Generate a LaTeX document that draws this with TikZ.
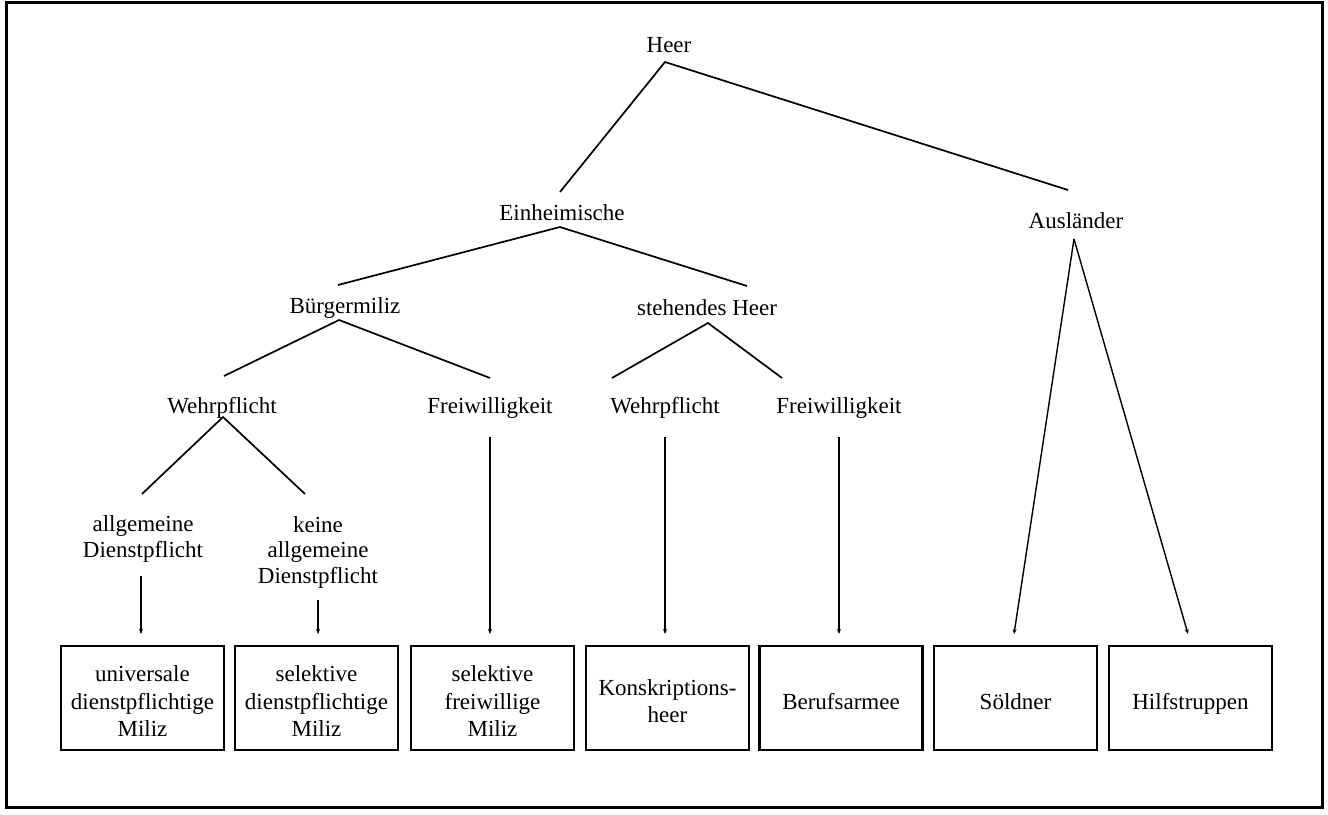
\documentclass[tikz,border=0pt]{standalone}
\usepackage{fontspec}
\setmainfont{Liberation Serif}
\usetikzlibrary{arrows.meta}
\newcommand{\toppad}{\rule{0pt}{22pt}}
\tikzset{
  lbl/.style={inner sep=0pt, align=center, font=\fontsize{23}{25.5}\selectfont},
  endbox/.style={draw, line width=2.8pt, minimum width=163pt, minimum height=104pt, inner sep=0pt, align=center, font=\fontsize{23}{27.5}\selectfont},
  single/.style={text height=22pt, text depth=0pt},
  branch/.style={line width=1.7pt},
  arr/.style={line width=1.4pt, -{Stealth[length=5pt,width=4pt]}},
}
\begin{document}
\begin{tikzpicture}[x=1pt,y=-1pt]
\useasboundingbox (0,0) rectangle (1328,814);
\draw[line width=3pt] (6,2) rectangle (1322,807);
% text nodes
\node[lbl] (heer) at (669,45) {Heer};
\node[lbl] (einh) at (562,213) {Einheimische};
\node[lbl] (ausl) at (1076,221) {Ausländer};
\node[lbl] (buerg) at (345,308) {Bürgermiliz};
\node[lbl] (steh) at (707,308) {stehendes Heer};
\node[lbl] (wehrL) at (222,408) {Wehrpflicht};
\node[lbl] (freiL) at (490,408) {Freiwilligkeit};
\node[lbl] (wehrM) at (665,408) {Wehrpflicht};
\node[lbl] (freiR) at (839,408) {Freiwilligkeit};
\node[lbl] (allg) at (143,539) {allgemeine\\Dienstpflicht};
\node[lbl] (keine) at (318,552) {keine\\allgemeine\\Dienstpflicht};
% boxes
\node[endbox] (b1) at (142.5,698) {\toppad universale\\dienstpflichtige\\Miliz};
\node[endbox] (b2) at (316.5,698) {\toppad selektive\\dienstpflichtige\\Miliz};
\node[endbox] (b3) at (492.5,698) {\toppad selektive\\freiwillige\\Miliz};
\node[endbox] (b4) at (667.5,698) {\toppad Konskriptions-\\heer};
\node[endbox,single] (b5) at (841,698) {Berufsarmee};
\node[endbox,single] (b6) at (1015.5,698) {Söldner};
\node[endbox,single] (b7) at (1190.5,698) {Hilfstruppen};
% connector points
\coordinate (heerA) at (665,62);
\coordinate (einhT) at (560,192);
\coordinate (auslT) at (1068,190);
\coordinate (einhA) at (560,227);
\coordinate (buergT) at (338,285);
\coordinate (stehT) at (747,286);
\coordinate (buergA) at (339,320);
\coordinate (wehrLT) at (224,376);
\coordinate (freiLT) at (490,378);
\coordinate (stehA) at (708,323);
\coordinate (wehrMT) at (612,378);
\coordinate (freiRT) at (782,378);
\coordinate (wehrLA) at (223,417);
\coordinate (allgT) at (142,494);
\coordinate (keineT) at (305,494);
\coordinate (auslA) at (1074,239);
\coordinate (allgB) at (141,576);
\coordinate (keineB) at (318,600);
\coordinate (freiLB) at (490,437);
\coordinate (wehrMB) at (665,437);
\coordinate (freiRB) at (839,437);
\coordinate (t1) at (141,634);
\coordinate (t2) at (318,634);
\coordinate (t3) at (490,634);
\coordinate (t4) at (665,634);
\coordinate (t5) at (839,634);
\coordinate (t6) at (1014,634);
\coordinate (t7) at (1188,634);
% branches
\draw[branch] (einhT) -- (heerA) -- (auslT);
\draw[branch] (buergT) -- (einhA) -- (stehT);
\draw[branch] (wehrLT) -- (buergA) -- (freiLT);
\draw[branch] (wehrMT) -- (stehA) -- (freiRT);
\draw[branch] (allgT) -- (wehrLA) -- (keineT);
% arrows
\draw[arr] (allgB) -- (t1);
\draw[arr] (keineB) -- (t2);
\draw[arr] (freiLB) -- (t3);
\draw[arr] (wehrMB) -- (t4);
\draw[arr] (freiRB) -- (t5);
\draw[arr] (auslA) -- (t6);
\draw[arr] (auslA) -- (t7);
\end{tikzpicture}
\end{document}
